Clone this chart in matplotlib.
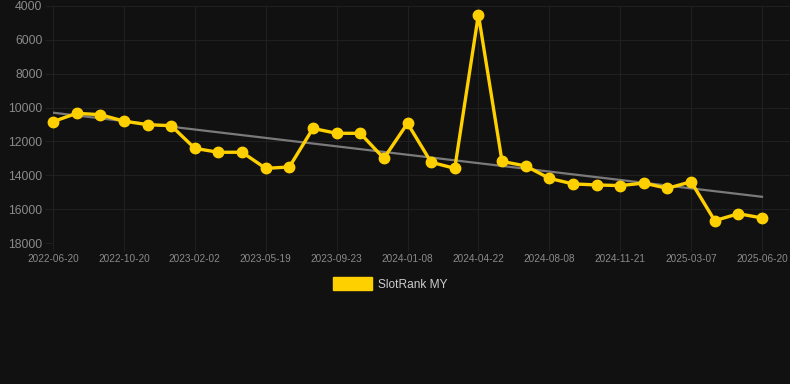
import matplotlib
matplotlib.use("Agg")
import matplotlib.pyplot as plt
import numpy as np

dates = ["2022-06-20", "2022-08-01", "2022-09-10", "2022-10-20", "2022-11-25", "2022-12-30",
         "2023-02-02", "2023-03-10", "2023-04-14", "2023-05-19", "2023-06-28", "2023-08-14",
         "2023-09-23", "2023-10-30", "2023-12-04", "2024-01-08", "2024-02-12", "2024-03-18",
         "2024-04-22", "2024-06-01", "2024-07-05", "2024-08-08", "2024-09-12", "2024-10-17",
         "2024-11-21", "2024-12-26", "2025-01-30", "2025-03-07", "2025-04-10", "2025-05-15",
         "2025-06-20"]
ranks = [10830, 10340, 10420, 10800, 11010, 11070, 12410, 12640, 12640, 13590, 13510,
         11230, 11520, 11520, 13000, 10930, 13230, 13590, 4510, 13180, 13450, 14180,
         14510, 14570, 14610, 14460, 14770, 14380, 16680, 16270, 16520]
y_ticks = [4000, 6000, 8000, 10000, 12000, 14000, 16000, 18000]
series_label = "SlotRank MY"

BG = "#111111"
GRID = "#202020"
TXT = "#8a8a8a"
GOLD = "#FFD000"

plt.rcParams['font.family'] = ['Liberation Sans', 'DejaVu Sans']

fig = plt.figure(figsize=(7.9, 3.84), dpi=100, facecolor=BG)
ax = fig.add_axes([53/790, 1-243/384, 1-53/790, (243-6)/384])
ax.set_facecolor(BG)

x = np.arange(len(ranks))
coef = np.polyfit(x, ranks, 1)
ax.plot(x, np.polyval(coef, x), color="#7a7a7a", lw=1.6, zorder=2)
ax.plot(x, ranks, color=GOLD, lw=2.4, marker="o", markersize=7.5, zorder=3,
        clip_on=False, label=series_label)

ax.set_ylim(18000, 4000)
ax.set_xlim(0, (790-53)/((762-53)/30))
ax.set_yticks(y_ticks)
ax.set_yticklabels([str(v) for v in y_ticks])
tick_idx = list(range(0, len(dates), 3))
ax.set_xticks(tick_idx)
ax.set_xticklabels([dates[i] for i in tick_idx])

ax.grid(True, color=GRID, lw=0.8)
ax.set_axisbelow(True)
for s in ax.spines.values():
    s.set_visible(False)
ax.tick_params(axis="y", length=6, color=GRID, labelcolor=TXT, labelsize=8.8, pad=1.5)
ax.tick_params(axis="x", length=6, color=GRID, labelcolor=TXT, labelsize=7.2, pad=2)

leg = fig.legend(handles=[matplotlib.patches.Patch(color=GOLD, label=series_label)],
                 loc="center", bbox_to_anchor=(390/790, 1-284/384), frameon=False,
                 fontsize=8.6, handlelength=3.3, handleheight=1.25, handletextpad=0.5)
for t in leg.get_texts():
    t.set_color("#cccccc")

fig.savefig("out.png", dpi=100, facecolor=BG)
